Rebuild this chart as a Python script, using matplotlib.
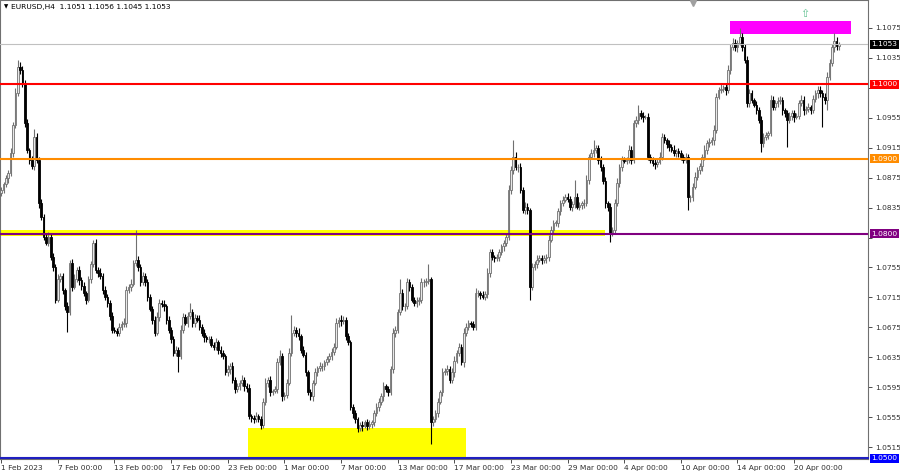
import numpy as np
import matplotlib
matplotlib.use('Agg')
import matplotlib.pyplot as plt
from matplotlib.patches import Rectangle
from matplotlib.transforms import blended_transform_factory

plt.rcParams['font.family'] = ['DejaVu Sans']

# EURUSD H4 종가 (pips = 가격 * 10000)
first_open = 10855
closes = [
    10859, 10866, 10874, 10881, 10908, 10945, 10988, 11023, 11019, 11001,
    10948, 10912, 10899, 10890, 10929, 10899, 10841, 10823, 10796, 10788,
    10796, 10769, 10756, 10712, 10739, 10743, 10725, 10703, 10695, 10761,
    10729, 10740, 10752, 10738, 10730, 10721, 10712, 10739, 10760, 10788,
    10752, 10748, 10743, 10725, 10716, 10708, 10690, 10672, 10670, 10668,
    10676, 10679, 10681, 10725, 10729, 10733, 10761, 10765, 10756, 10735,
    10743, 10735, 10716, 10700, 10685, 10668, 10689, 10708, 10706, 10703,
    10685, 10672, 10660, 10641, 10645, 10636, 10672, 10689, 10681, 10690,
    10695, 10681, 10688, 10685, 10676, 10668, 10662, 10659, 10659, 10652,
    10649, 10655, 10645, 10640, 10636, 10615, 10619, 10623, 10605, 10592,
    10596, 10600, 10605, 10596, 10594, 10556, 10554, 10552, 10556, 10552,
    10545, 10575, 10601, 10605, 10588, 10590, 10592, 10628, 10636, 10583,
    10585, 10601, 10641, 10668, 10672, 10668, 10663, 10645, 10638, 10615,
    10588, 10583, 10601, 10615, 10620, 10623, 10623, 10628, 10632, 10636,
    10642, 10649, 10681, 10685, 10683, 10685, 10663, 10655, 10569, 10560,
    10552, 10540, 10545, 10543, 10548, 10543, 10546, 10548, 10561, 10568,
    10575, 10583, 10596, 10592, 10588, 10619, 10668, 10672, 10695, 10721,
    10703, 10703, 10735, 10729, 10712, 10708, 10710, 10712, 10735, 10735,
    10737, 10739, 10548, 10552, 10561, 10575, 10588, 10615, 10617, 10619,
    10605, 10615, 10630, 10641, 10649, 10628, 10668, 10676, 10681, 10679,
    10676, 10721, 10721, 10718, 10716, 10719, 10748, 10775, 10769, 10767,
    10769, 10775, 10783, 10788, 10796, 10859, 10885, 10903, 10889, 10889,
    10859, 10832, 10836, 10832, 10729, 10756, 10760, 10765, 10768, 10765,
    10767, 10769, 10792, 10805, 10815, 10815, 10830, 10841, 10845, 10849,
    10847, 10836, 10840, 10849, 10836, 10838, 10841, 10841, 10872, 10903,
    10908, 10912, 10915, 10899, 10889, 10870, 10841, 10836, 10801, 10805,
    10841, 10868, 10889, 10899, 10897, 10899, 10912, 10899, 10948, 10952,
    10961, 10958, 10956, 10956, 10903, 10899, 10895, 10893, 10896, 10903,
    10929, 10925, 10920, 10916, 10912, 10908, 10910, 10908, 10903, 10899,
    10903, 10849, 10849, 10863, 10876, 10885, 10890, 10903, 10912, 10921,
    10923, 10925, 10939, 10983, 10992, 10994, 10996, 10992, 11019, 11049,
    11055, 11049, 11055, 11063, 11049, 11032, 10975, 10988, 10979, 10972,
    10965, 10952, 10921, 10929, 10932, 10935, 10979, 10969, 10975, 10977,
    10979, 10965, 10961, 10952, 10957, 10961, 10956, 10958, 10975, 10979,
    10965, 10967, 10969, 10965, 10980, 10988, 10992, 10988, 10983, 10979,
    11010, 11028, 11049, 11058, 11051, 11053,
]

# 몸통 위/아래 꼬리 길이 (pips)
up_wick = [
    4, 3, 5, 4, 6, 5, 7, 9, 6, 5,
    4, 6, 3, 5, 11, 5, 4, 6, 3, 5,
    6, 4, 5, 3, 7, 4, 5, 3, 6, 4,
    5, 6, 3, 5, 4, 6, 3, 5, 4, 4,
    5, 3, 6, 4, 5, 3, 4, 5, 3, 4,
    5, 4, 6, 5, 4, 6, 4, 40, 5, 3,
    6, 4, 5, 3, 4, 5, 6, 5, 4, 6,
    3, 5, 4, 3, 5, 4, 6, 5, 4, 6,
    12, 4, 5, 3, 6, 4, 5, 3, 4, 5,
    4, 6, 3, 5, 4, 3, 5, 4, 6, 3,
    5, 4, 6, 3, 4, 5, 3, 4, 6, 3,
    4, 5, 6, 4, 5, 3, 4, 6, 9, 4,
    3, 5, 6, 24, 5, 4, 6, 3, 5, 4,
    3, 5, 4, 6, 3, 5, 4, 3, 5, 4,
    6, 5, 7, 4, 6, 5, 4, 5, 3, 4,
    5, 3, 4, 5, 3, 4, 5, 3, 4, 6,
    5, 4, 6, 3, 5, 4, 6, 5, 4, 18,
    5, 4, 6, 5, 4, 3, 5, 4, 6, 5,
    4, 20, 3, 5, 4, 6, 3, 5, 4, 6,
    4, 5, 6, 3, 5, 4, 6, 5, 4, 3,
    5, 6, 4, 3, 5, 4, 6, 5, 4, 3,
    4, 5, 3, 4, 5, 6, 5, 22, 6, 4,
    5, 4, 6, 5, 3, 5, 4, 6, 3, 4,
    5, 4, 6, 5, 4, 3, 5, 4, 6, 4,
    5, 3, 4, 23, 5, 4, 3, 5, 6, 4,
    5, 13, 4, 3, 5, 4, 6, 3, 5, 4,
    5, 6, 4, 5, 3, 4, 6, 5, 4, 6,
    11, 4, 5, 3, 5, 4, 3, 5, 4, 6,
    5, 4, 3, 5, 4, 6, 3, 5, 4, 3,
    5, 4, 3, 5, 6, 4, 5, 3, 6, 4,
    5, 4, 6, 5, 4, 6, 3, 5, 6, 4,
    6, 5, 4, 12, 5, 4, 6, 5, 4, 3,
    5, 4, 6, 5, 4, 3, 6, 5, 4, 6,
    5, 4, 3, 5, 6, 4, 5, 3, 4, 6,
    5, 4, 6, 3, 5, 4, 6, 5, 4, 5,
    6, 5, 4, 10, 5, 3,
]
dn_wick = [
    4, 5, 3, 6, 4, 5, 3, 4, 6, 5,
    5, 4, 6, 3, 5, 4, 6, 5, 4, 3,
    5, 4, 6, 5, 3, 4, 6, 5, 26, 4,
    5, 3, 4, 6, 5, 4, 6, 3, 5, 4,
    4, 6, 3, 5, 4, 6, 5, 4, 3, 5,
    4, 5, 3, 6, 4, 5, 3, 4, 6, 5,
    4, 5, 6, 3, 5, 4, 3, 5, 4, 6,
    5, 4, 6, 4, 5, 21, 4, 5, 3, 6,
    4, 6, 5, 3, 4, 5, 6, 4, 5, 3,
    5, 4, 6, 5, 3, 4, 5, 6, 4, 5,
    3, 5, 4, 6, 5, 4, 6, 5, 3, 4,
    6, 5, 4, 6, 5, 4, 3, 5, 4, 6,
    5, 4, 3, 5, 4, 6, 5, 4, 3, 5,
    4, 5, 6, 3, 5, 4, 6, 5, 3, 4,
    5, 4, 3, 5, 6, 4, 5, 3, 4, 6,
    5, 5, 4, 6, 3, 5, 4, 6, 5, 4,
    5, 4, 6, 3, 5, 4, 5, 6, 4, 3,
    5, 6, 4, 5, 3, 4, 6, 5, 4, 6,
    5, 4, 29, 5, 4, 6, 3, 5, 4, 6,
    5, 4, 6, 3, 5, 4, 6, 5, 4, 3,
    5, 4, 6, 5, 3, 4, 5, 6, 4, 5,
    3, 5, 4, 6, 5, 4, 6, 5, 4, 6,
    5, 4, 6, 5, 17, 4, 5, 6, 3, 5,
    4, 6, 5, 3, 5, 4, 6, 5, 4, 3,
    5, 4, 6, 5, 3, 4, 5, 6, 4, 5,
    3, 5, 4, 6, 5, 4, 6, 5, 12, 4,
    5, 4, 6, 5, 3, 4, 5, 6, 4, 5,
    5, 4, 6, 3, 5, 4, 5, 6, 4, 3,
    5, 4, 6, 5, 3, 4, 5, 6, 4, 5,
    4, 17, 6, 5, 3, 4, 5, 6, 4, 5,
    5, 4, 6, 5, 3, 4, 5, 6, 4, 5,
    4, 5, 6, 3, 5, 4, 6, 5, 4, 3,
    5, 4, 12, 5, 4, 6, 5, 4, 3, 5,
    4, 6, 5, 36, 4, 5, 6, 3, 5, 4,
    6, 5, 4, 5, 3, 4, 6, 5, 40, 5,
    14, 5, 4, 6, 5, 6,
]

date_labels = ['1 Feb 2023', '7 Feb 00:00', '13 Feb 00:00', '17 Feb 00:00', '23 Feb 00:00',
               '1 Mar 00:00', '7 Mar 00:00', '13 Mar 00:00', '17 Mar 00:00', '23 Mar 00:00',
               '29 Mar 00:00', '4 Apr 00:00', '10 Apr 00:00', '14 Apr 00:00', '20 Apr 00:00']
bars_per_label = 24  # 4 거래일 * 6 봉

# 수평선 레벨
red_level = 1.1000
orange_level = 1.0900
purple_level = 1.0800
blue_level = 1.0500
last_price = 1.1053
header = 'EURUSD,H4  1.1051 1.1056 1.1045 1.1053'

# 사각형 영역 (봉 인덱스, 가격)
top_zone = (308.8, 360.1, 1.10670, 1.10844)
bottom_zone = (104.6, 197.0, 1.04990, 1.05404)
yellow_band_end = 255.8

# OHLC 계산
c = np.array(closes) / 10000
o = np.concatenate([[first_open], closes[:-1]]) / 10000
hi = np.maximum(o, c) + np.array(up_wick) / 10000
lo = np.minimum(o, c) - np.array(dn_wick) / 10000
idx = np.arange(len(c))
up = c >= o

fig = plt.figure(figsize=(9, 4.71), dpi=100)
ax = fig.add_axes([0, 12 / 471, 868 / 900, 459 / 471])
ax.set_xlim(-0.5, 367.3)
ax.set_ylim(1.04990, 1.11124)

# 배경 사각형
ax.add_patch(Rectangle((top_zone[0], top_zone[2]), top_zone[1] - top_zone[0], top_zone[3] - top_zone[2],
                       fc='#ff00ff', ec='none', zorder=1))
ax.add_patch(Rectangle((bottom_zone[0], bottom_zone[2]), bottom_zone[1] - bottom_zone[0],
                       bottom_zone[3] - bottom_zone[2], fc='#ffff00', ec='none', zorder=1))
ax.add_patch(Rectangle((-0.5, purple_level - 0.00032), yellow_band_end + 0.5, 0.00076,
                       fc='#ffff00', ec='none', zorder=1))

# 캔들
body_lo = np.minimum(o, c)
body_h = np.maximum(np.abs(c - o), 0.00005)
ax.vlines(idx[up], lo[up], hi[up], color='#707070', lw=0.8, zorder=2)
ax.vlines(idx[~up], lo[~up], hi[~up], color='black', lw=0.8, zorder=2)
ax.bar(idx[up], body_h[up], bottom=body_lo[up], width=0.7, color='#e8e8e8', edgecolor='#707070', lw=0.6, zorder=3)
ax.bar(idx[~up], body_h[~up], bottom=body_lo[~up], width=0.7, color='black', edgecolor='black', lw=0.6, zorder=3)

# 수평선
ax.axhline(last_price, color='#c0c0c0', lw=0.8, zorder=4)
ax.axhline(red_level, color='#ff0000', lw=1.5, zorder=4)
ax.axhline(orange_level, color='#ff8c00', lw=1.5, zorder=4)
ax.axhline(purple_level, color='#800080', lw=1.5, zorder=4)
ax.axhline(blue_level, color='#2020c0', lw=1.5, zorder=4, clip_on=False)

# 화살표, 상단 마커
ax.text(340.6, 1.10937, '\u21e7', color='#60c090', fontsize=8, ha='center', va='center', zorder=5)
ax.plot([293.1], [1.1109], marker='v', color='#a0a0a0', ms=4, clip_on=False, zorder=5)

# 오른쪽 가격 축 (레벨 박스에 가려지는 값은 라벨 생략)
yt = np.round(np.arange(1.0515, 1.1076, 0.004), 4)
hidden = [1.0995, 1.0795]
ax.yaxis.tick_right()
ax.set_yticks(yt)
ax.set_yticklabels(['' if t in hidden else f'{t:.4f}' for t in yt])
ax.tick_params(axis='y', length=3, pad=2, labelsize=5.4, colors='#303030', width=0.6)

# 레벨 라벨 박스
trans = blended_transform_factory(ax.transAxes, ax.transData)
for lvl, col in [(last_price, 'black'), (red_level, '#ff0000'), (orange_level, '#ff8c00'),
                 (purple_level, '#800080'), (blue_level, '#0000ff')]:
    ax.text(1.004, lvl, f'{lvl:.4f}', transform=trans, ha='left', va='center', fontsize=5.4,
            color='white', bbox=dict(boxstyle='square,pad=0.2', fc=col, ec='none'),
            clip_on=False, zorder=6)

# 아래 시간 축
ax.set_xticks(np.arange(len(date_labels)) * bars_per_label)
ax.set_xticklabels(date_labels)
for lbl in ax.get_xticklabels():
    lbl.set_horizontalalignment('left')
ax.tick_params(axis='x', length=3, pad=1, labelsize=5.4, colors='#303030', width=0.6)

for s in ax.spines.values():
    s.set_color('#707070')
    s.set_linewidth(0.8)

# 제목
fig.text(0.004, 0.985, '\u25bc', fontsize=4, va='center', ha='left')
fig.text(0.012, 0.985, header, fontsize=5.4, va='center', ha='left', color='black')

plt.savefig('out.png', dpi=100)
